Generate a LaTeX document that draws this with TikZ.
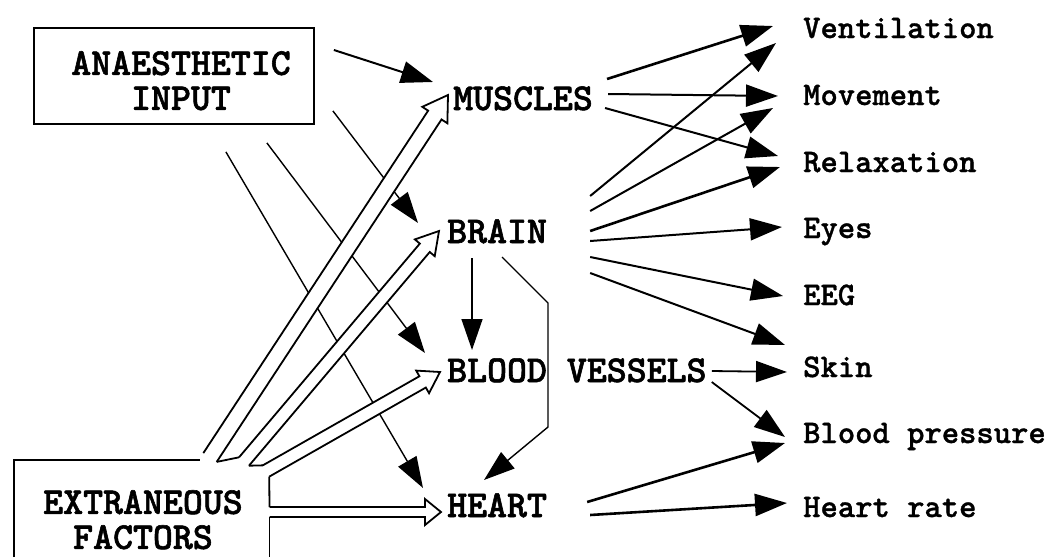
\documentclass[tikz,border=0pt]{standalone}
\usepackage{fontspec}
\newfontfamily\heavytt[FakeBold=1.5]{lmmonolt10-bold.otf}
\newfontfamily\labeltt[FakeBold=1]{lmmonolt10-bold.otf}
\usetikzlibrary{arrows.meta,calc}
\tikzset{
  capstext/.style={font=\heavytt\fontsize{38}{40}\selectfont, inner sep=0pt, anchor=base west, text height=23pt, text depth=0pt},
  capsblock/.style={font=\heavytt\fontsize{38}{35}\selectfont, inner sep=0pt, anchor=north, align=center},
  rlabel/.style={font=\labeltt\fontsize{33}{36}\selectfont, inner sep=0pt, anchor=base west},
  thinarrow/.style={line width=1.4pt, -{Triangle[length=31pt,width=21pt]}},
  medarrow/.style={line width=2pt, -{Triangle[length=32pt,width=22pt]}},
  thickarrow/.style={line width=2.6pt, -{Triangle[length=32pt,width=22pt]}},
  hollow/.style={line width=1.8pt, line join=miter},
  boxline/.style={line width=1.8pt},
}
\newcommand\hollowarrow[6]{% name, start, tip, shaft half width, head length, head half width
  \coordinate (#1-h) at ($(#3)!#5!(#2)$);
  \coordinate (#1-l) at ($(#2)!#4!90:(#3)$);
  \coordinate (#1-r) at ($(#2)!#4!-90:(#3)$);
  \coordinate (#1-hl) at ($(#1-h)!#4!90:(#3)$);
  \coordinate (#1-hr) at ($(#1-h)!#4!-90:(#3)$);
  \coordinate (#1-bl) at ($(#1-h)!#6!90:(#3)$);
  \coordinate (#1-br) at ($(#1-h)!#6!-90:(#3)$);
  \fill[white] (#1-l) -- (#1-hl) -- (#1-bl) -- (#3) -- (#1-br) -- (#1-hr) -- (#1-r) -- cycle;
  \draw[hollow] (#1-l) -- (#1-hl) -- (#1-bl) -- (#3) -- (#1-br) -- (#1-hr) -- (#1-r);
}
\begin{document}
\begin{tikzpicture}[x=1pt,y=-1pt]
\fill[white] (0,0) rectangle (1056,557);
\useasboundingbox (0,0) rectangle (1056,557);
\coordinate (bottomleft) at (0,557);

% right-hand labels
\node[rlabel] (vent)  at (803,38)  {Ventilation};
\node[rlabel] (move)  at (803,105) {Movement};
\node[rlabel] (relax) at (803,172) {Relaxation};
\node[rlabel] (eyes)  at (803,238) {Eyes};
\node[rlabel] (eeg)   at (803,305) {EEG};
\node[rlabel] (skin)  at (803,377) {Skin};
\node[rlabel] (bp)    at (803,443) {Blood pressure};
\node[rlabel] (hr)    at (803,517) {Heart rate};

% organ labels
\node[capstext] (muscles) at (453,110) {MUSCLES};
\node[capstext] (brain)   at (447,243) {BRAIN};
\node[capstext] (bv)      at (447,382) {BLOOD VESSELS};
\node[capstext] (heart)   at (447,517) {HEART};

% anaesthetic input box
\node[draw, line width=1.8pt, minimum width=280pt, minimum height=96pt, inner sep=0pt] (anaes) at (174,76) {};
\node[capsblock] (anaestext) at (181,51) {ANAESTHETIC\\INPUT};

% extraneous factors
\node[capsblock] (extratext) at (143,490) {EXTRANEOUS\\FACTORS};

% anaesthetic input arrows
\draw[thickarrow, line width=2pt] ($(anaes.east)+(19,-26)$) -- ($(muscles.base west)+(-20,-28)$);
\draw[thinarrow] ($(anaes.south east)+(18,-14)$) -- ($(brain.base west)+(-29,-20)$);
\draw[thinarrow] ($(anaes.south east)+(-48,18)$) -- ($(bv.base west)+(-22,-29)$);
\draw[thinarrow] ($(anaes.south east)+(-89,27)$) -- ($(heart.base west)+(-24,-29)$);

% brain to blood vessels and heart
\draw[thinarrow] ($(brain.base west)+(25,15)$) -- ($(bv.base west)+(25,-32)$);
\draw[thinarrow] ($(brain.base west)+(55,14)$) -- ++(46,46) -- ++(0,124) -- ($(heart.base west)+(37,-37)$);

% extraneous factor hollow arrows
\coordinate (mS) at (210,457.5);
\coordinate (mT) at ($(muscles.base west)+(-5,-15)$);
\coordinate (bS) at (244,461.5);
\coordinate (bT) at ($(brain.base west)+(-8,-12)$);
\coordinate (vS) at (266,471);
\coordinate (vT) at ($(bv.base west)+(-7,-10)$);
\coordinate (hS) at (269.5,512);
\coordinate (hT) at ($(heart.base west)+(-6,-5)$);
\hollowarrow{m}{mS}{mT}{8pt}{24pt}{15pt}
\hollowarrow{b}{bS}{bT}{6.5pt}{22pt}{13pt}
\hollowarrow{v}{vS}{vT}{6.5pt}{20pt}{13pt}
\hollowarrow{h}{hS}{hT}{5pt}{16pt}{13pt}
\draw[hollow] (m-r) -- (b-l);
\draw[hollow] (b-r) -- (v-l);
\draw[boxline] (14,557) -- (14,460) -- (200,460);
\draw[boxline] (v-r) -- (h-l);
\draw[boxline] (h-r) -- (h-r |- bottomleft);

% muscles outputs
\draw[thickarrow] ($(muscles.base east)+(14,-31)$) -- ($(vent.base west)+(-30,-12)$);
\draw[medarrow]   ($(muscles.base east)+(15,-16)$) -- ($(move.base west)+(-25,-9)$);
\draw[medarrow]   ($(muscles.base east)+(12,-2)$)  -- ($(relax.base west)+(-25,-16)$);

% brain outputs
\draw[medarrow]   ($(brain.base east)+(43,-47)$) -- ($(vent.base west)+(-27,5)$);
\draw[medarrow]   ($(brain.base east)+(43,-32)$) -- ($(move.base west)+(-30,3)$);
\draw[thickarrow] ($(brain.base east)+(43,-12)$) -- ($(relax.base west)+(-23,-5)$);
\draw[medarrow]   ($(brain.base east)+(43,-2)$)  -- ($(eyes.base west)+(-21,-11)$);
\draw[medarrow]   ($(brain.base east)+(43,14)$)  -- ($(eeg.base west)+(-20,-9)$);
\draw[medarrow]   ($(brain.base east)+(43,30)$)  -- ($(skin.base west)+(-18,-32)$);

% blood vessel outputs
\draw[thinarrow, line width=1.8pt] ($(bv.base east)+(5,-11)$) -- ($(skin.base west)+(-16,-5)$);
\draw[thinarrow, line width=1.8pt] ($(bv.base east)+(5,0)$)   -- ($(bp.base west)+(-18,-6)$);

% heart outputs
\draw[thickarrow] ($(heart.base east)+(40,-15)$) -- ($(bp.base west)+(-18,0)$);
\draw[thickarrow] ($(heart.base east)+(43,-2)$)  -- ($(hr.base west)+(-16,-14)$);
\end{tikzpicture}
\end{document}
